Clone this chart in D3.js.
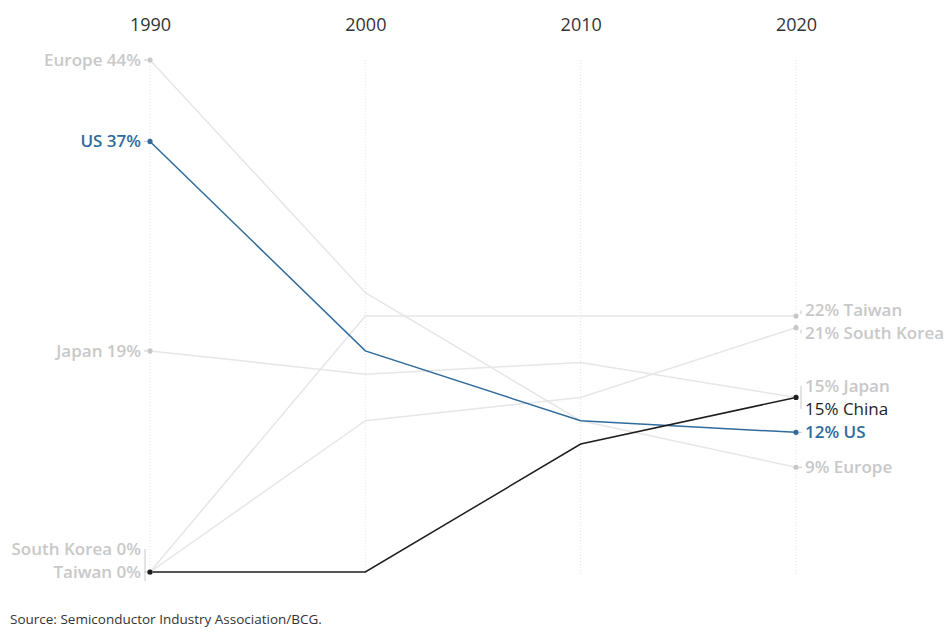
<!DOCTYPE html>
<html>
<head>
<meta charset="utf-8">
<script src="https://cdn.jsdelivr.net/npm/d3@7"></script>
<style>
  html, body { margin: 0; padding: 0; background: #fff; }
  svg { display: block; font-family: "Open Sans", Lato, sans-serif; }
</style>
</head>
<body>
<svg id="chart" width="949" height="635"></svg>
<script>
// ---- Data ----
const years = [1990, 2000, 2010, 2020];
const countries = ["Europe", "Japan", "South Korea", "Taiwan", "US", "China"];
const europe = [44, 24, 13, 9];
const japan = [19, 17, 18, 15];
const southKorea = [0, 13, 15, 21];
const taiwan = [0, 22, 22, 22];
const us = [37, 19, 13, 12];
const china = [0, 0, 11, 15];
const sourceText = "Source: Semiconductor Industry Association/BCG.";

const valuesByCountry = {
  "Europe": europe, "Japan": japan, "South Korea": southKorea,
  "Taiwan": taiwan, "US": us, "China": china
};

// ---- Styles ----
const GREY_LINE = "#e6e6e6";
const GREY_TEXT = "#c8c8c8";
const BLUE = "#2f6b9c";
const BLACK = "#1e1e1e";
const colorLine = c => c === "US" ? BLUE : c === "China" ? BLACK : GREY_LINE;
const colorText = c => c === "US" ? BLUE : c === "China" ? BLACK : GREY_TEXT;
const colorDot = c => c === "US" ? BLUE : c === "China" ? BLACK : GREY_TEXT;

const svg = d3.select("#chart");
const x = d3.scalePoint().domain(years).range([150, 796]).padding(0);
const y = d3.scaleLinear().domain([0, 44]).range([572, 60]);

// grid (dotted verticals)
svg.append("g").selectAll("line").data(years).join("line")
  .attr("x1", d => x(d)).attr("x2", d => x(d))
  .attr("y1", y(44)).attr("y2", y(0) + 2)
  .attr("stroke", "#e4e4e4").attr("stroke-width", 1)
  .attr("stroke-dasharray", "1,2");

// year headers via axis
const axis = d3.axisTop(x).tickSize(0).tickPadding(0);
const ag = svg.append("g").attr("transform", "translate(0,31)").call(axis);
ag.select(".domain").remove();
ag.selectAll("text").attr("font-size", 18).attr("fill", "#333")
  .attr("font-family", "'Open Sans', Lato, sans-serif");

// lines
const line = d3.line().x((d, i) => x(years[i])).y(d => y(d));
const order = ["Europe", "Japan", "South Korea", "Taiwan", "US", "China"];
svg.append("g").selectAll("path").data(order).join("path")
  .attr("d", c => line(valuesByCountry[c]))
  .attr("fill", "none")
  .attr("stroke", c => colorLine(c))
  .attr("stroke-width", 1.5);

// dots at ends
const last = years.length - 1;
order.forEach(c => {
  [0, last].forEach(i => {
    svg.append("circle")
      .attr("cx", x(years[i])).attr("cy", y(valuesByCountry[c][i]))
      .attr("r", 2.6).attr("fill", colorDot(c));
  });
});

// label dodge
function dodge(items, gap, yMax) {
  items.sort((a, b) => a.target - b.target || a.pri - b.pri);
  let clusters = items.map(it => ({ members: [it] }));
  const place = cl => {
    const n = cl.members.length;
    const m = d3.mean(cl.members, d => d.target);
    let top = m - (n - 1) * gap / 2;
    if (top + (n - 1) * gap > yMax) top = yMax - (n - 1) * gap;
    cl.top = top; cl.bottom = top + (n - 1) * gap;
  };
  clusters.forEach(place);
  let changed = true;
  while (changed) {
    changed = false;
    for (let i = 0; i < clusters.length - 1; i++) {
      if (clusters[i].bottom + gap > clusters[i + 1].top + 0.01) {
        clusters[i].members = clusters[i].members.concat(clusters[i + 1].members);
        clusters.splice(i + 1, 1);
        place(clusters[i]);
        changed = true;
        break;
      }
    }
  }
  clusters.forEach(cl => cl.members.forEach((m, k) => m.y = cl.top + k * gap));
  return items;
}

function drawLabels(idx, side) {
  const xv = x(years[idx]);
  const pri = side === "left"
    ? { "South Korea": 0, "Taiwan": 1, "China": 2, "Europe": 0, "US": 0, "Japan": 0 }
    : { "Taiwan": 0, "South Korea": 1, "Japan": 0, "China": 1, "US": 0, "Europe": 0 };
  // China's 1990 label is omitted (shares 0% with Taiwan/South Korea)
  const list = countries.filter(c => !(side === "left" && c === "China"))
    .map(c => ({ c, v: valuesByCountry[c][idx], target: y(valuesByCountry[c][idx]), pri: pri[c] }));
  dodge(list, 23, y(0));
  const g = svg.append("g");
  const dir = side === "left" ? -1 : 1;
  list.forEach(it => {
    const off = it.y - it.target;
    if (Math.abs(off) > 1) {
      const small = Math.abs(off) < 8;
      g.append("line")
        .attr("x1", xv + dir * 5).attr("x2", xv + dir * 5)
        .attr("y1", it.target + Math.sign(off) * (small ? 2 : 0))
        .attr("y2", it.y)
        .attr("stroke", GREY_TEXT).attr("stroke-width", 1);
      if (side === "left" && !small) {
        g.append("line")
          .attr("x1", xv + dir * 5).attr("x2", xv + dir * 5)
          .attr("y1", it.target).attr("y2", it.target + 9)
          .attr("stroke", GREY_TEXT).attr("stroke-width", 1);
      }
    } else {
      g.append("line")
        .attr("x1", xv + dir * 3).attr("x2", xv + dir * 6)
        .attr("y1", it.y).attr("y2", it.y)
        .attr("stroke", GREY_TEXT).attr("stroke-width", 1);
    }
    g.append("text")
      .attr("x", xv + dir * 9).attr("y", it.y).attr("dy", "0.35em")
      .attr("text-anchor", side === "left" ? "end" : "start")
      .attr("font-size", 17).attr("font-weight", it.c === "China" ? 500 : 600)
      .attr("fill", colorText(it.c))
      .text(side === "left" ? `${it.c} ${it.v}%` : `${it.v}% ${it.c}`);
  });
}
drawLabels(0, "left");
drawLabels(last, "right");

svg.append("text").attr("x", 10).attr("y", 624)
  .attr("font-size", 13.5).attr("fill", "#333").text(sourceText);
</script>
</body>
</html>
